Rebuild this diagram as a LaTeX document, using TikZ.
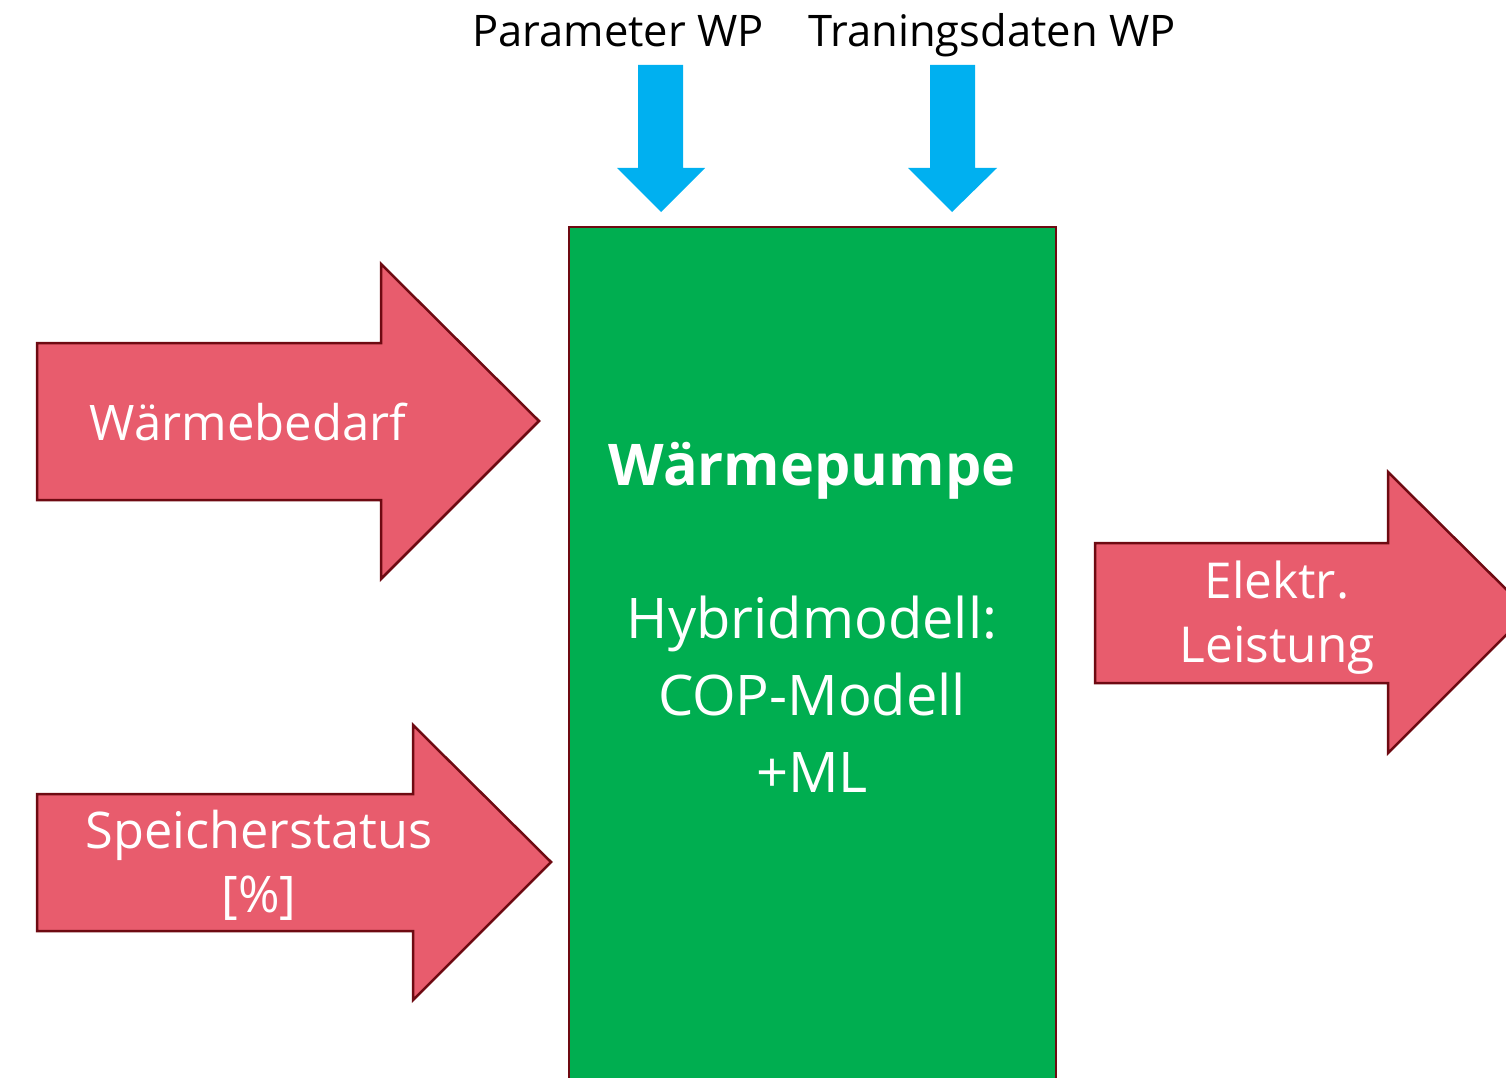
\documentclass[tikz,border=0pt]{standalone}
\usepackage{fontspec}
\setmainfont{Open Sans}
\definecolor{redfill}{HTML}{E85C6D}
\definecolor{darkborder}{HTML}{6E0A12}
\definecolor{greenfill}{HTML}{00AE50}
\definecolor{bluefill}{HTML}{00B0F0}
\tikzset{
  redarrow/.style={fill=redfill, draw=darkborder, line width=2.5pt, line join=miter},
  greenbox/.style={fill=greenfill, draw=darkborder, line width=2.5pt},
  whitelabel/.style={text=white, anchor=base, inner sep=0pt, align=center},
  toplabel/.style={text=black, anchor=base, inner sep=0pt, font=\fontsize{43.5}{50}\selectfont}
}
\begin{document}
\begin{tikzpicture}[x=1pt,y=-1pt]
\useasboundingbox (0,0) rectangle (1506,1078);
\clip (0,0) rectangle (1506,1078);
% green box
\draw[greenbox] (569,227) rectangle (1056,1110);
% red arrows
\draw[redarrow] (37,343) -- (381,343) -- (381,264) -- (539,421) -- (381,579) -- (381,500) -- (37,500) -- cycle;
\draw[redarrow] (37,794) -- (413,794) -- (413,725) -- (551,862) -- (413,1000) -- (413,931) -- (37,931) -- cycle;
\draw[redarrow] (1095,543) -- (1388,543) -- (1388,472) -- (1529,612) -- (1388,753) -- (1388,683) -- (1095,683) -- cycle;
% blue arrows
\fill[bluefill] (638,65) -- (683,65) -- (683,168) -- (705,168) -- (661,212) -- (617,168) -- (638,168) -- cycle;
\fill[bluefill] (930,65) -- (975,65) -- (975,168) -- (997,168) -- (952,212) -- (908,168) -- (930,168) -- cycle;
% labels
\node[toplabel] (lpar) at (618,47) {Parameter WP};
\node[toplabel] (ltrain) at (992,47) {Traningsdaten WP};
\node[whitelabel, font=\fontsize{49}{64}\selectfont] (lbed) at (248,440) {Wärmebedarf};
\node[whitelabel, font=\fontsize{50.5}{64}\selectfont] (lspeich) at (259,912) {Speicherstatus\\{}[\%]};
\node[whitelabel, font=\fontsize{49.5}{64}\selectfont] (lel) at (1277,662) {Elektr.\\Leistung};
\node[whitelabel, font=\bfseries\fontsize{57.5}{77}\selectfont] (ltitle) at (812,485) {Wärmepumpe};
\node[whitelabel, font=\fontsize{56}{77}\selectfont] (lhyb) at (812,792) {Hybridmodell:\\COP-Modell\\+ML};
\end{tikzpicture}
\end{document}
